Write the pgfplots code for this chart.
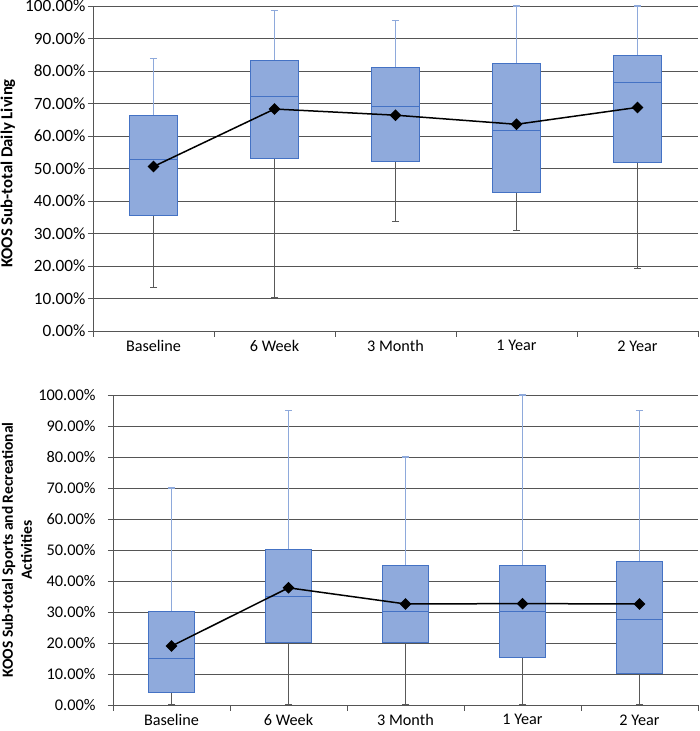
\documentclass[border=0pt]{standalone}
\usepackage{pgfplots}
\pgfplotsset{compat=1.18}
\usepackage{pgfplotstable}
\usepackage{fontspec}
\setmainfont{Carlito}
\definecolor{boxfill}{HTML}{8FAADC}
\definecolor{boxdraw}{HTML}{4472C4}
\definecolor{upw}{HTML}{8EA9DB}
\definecolor{loww}{HTML}{595959}
\definecolor{gridc}{HTML}{555555}

\pgfplotstableread{
x low q1 med q3 top mean
1 13.3 35.4 52.9 66.2 83.9 50.6
2 10.3 53.0 72.1 83.1 98.6 68.3
3 33.8 52.1 69.1 81.1 95.6 66.4
4 31.0 42.7 61.8 82.4 100.0 63.6
5 19.3 51.8 76.5 84.9 100.0 68.8
}\daily
\pgfplotstableread{
x low q1 med q3 top mean
1 0.0 4.0 15.0 30.0 70.0 19.0
2 0.0 20.1 35.0 50.0 95.0 37.8
3 0.0 20.0 30.1 45.0 80.0 32.6
4 0.0 15.2 30.0 45.0 100.0 32.7
5 0.0 10.1 27.7 46.2 95.0 32.6
}\sports

\pgfplotsset{
  kooscommon/.style={
    scale only axis,
    xmin=0.5, xmax=5.5,
    ymin=0, ymax=100,
    axis x line*=bottom,
    axis y line*=left,
    axis line style={draw=gridc, line width=0.8pt},
    ytick={0,10,...,100},
    yticklabels={0.00\%,10.00\%,20.00\%,30.00\%,40.00\%,50.00\%,60.00\%,70.00\%,80.00\%,90.00\%,100.00\%},
    ymajorgrids,
    grid style={draw=gridc, line width=0.8pt},
    ytick style={draw=gridc, line width=0.8pt},
    ytick align=outside,
    major tick length=5pt,
    xtick={1,2,3,4,5},
    xticklabels={Baseline,6 Week,3 Month,1 Year,2 Year},
    xtick style={draw=none},
    extra x ticks={0.5,1.5,2.5,3.5,4.5,5.5},
    extra x tick labels={},
    extra x tick style={xtick style={draw=gridc, line width=0.8pt}, tick align=outside, major tick length=6pt, grid=none},
    xticklabel style={font=\fontsize{16.2}{19}\selectfont, yshift=-6pt},
    every axis y label/.style={at={(rel axis cs:0,0.5)}, anchor=center},
    clip=false,
  },
  boxst/.style={draw=boxdraw, fill=boxfill, line width=1pt, solid},
  medst/.style={draw=boxdraw, line width=1pt, solid},
  meanst/.style={black, line width=1.5pt, mark=square*, mark size=3.4pt, mark options={solid, fill=black, rotate=45}},
}

\newcommand{\kooswhiskers}[1]{%
  \addplot[forget plot, draw=none, mark=none,
    error bars/.cd, y dir=plus, y explicit,
    error bar style={draw=upw, line width=1.2pt},
    error mark options={draw=upw, rotate=90, mark size=3.7pt, line width=1.2pt}]
    table[x=x, y=q3, y error expr={\thisrow{top}-\thisrow{q3}}] {#1};
  \addplot[forget plot, draw=none, mark=none,
    error bars/.cd, y dir=minus, y explicit,
    error bar style={draw=loww, line width=1pt},
    error mark options={draw=loww, rotate=90, mark size=3.7pt, line width=1pt}]
    table[x=x, y=q1, y error expr={\thisrow{q1}-\thisrow{low}}] {#1};
}

\begin{document}
\begin{tikzpicture}[x=1pt,y=1pt]
\useasboundingbox (0,0) rectangle (699,731);

\begin{axis}[kooscommon,
  at={(93pt,400pt)}, anchor=south west,
  width=605pt, height=325pt,
  yticklabel style={font=\fontsize{17.2}{20}\selectfont, xshift=1pt},
  ylabel={KOOS Sub-total Daily Living},
  ylabel style={font=\bfseries\fontsize{16.7}{19}\selectfont, align=center, xshift=-85pt, yshift=-5pt, rotate=90},
]
\kooswhiskers{\daily}
\addplot[boxst] coordinates {(0.8,35.4) (1.2,35.4) (1.2,66.2) (0.8,66.2)} -- cycle;
\addplot[boxst] coordinates {(1.8,53.0) (2.2,53.0) (2.2,83.1) (1.8,83.1)} -- cycle;
\addplot[boxst] coordinates {(2.8,52.1) (3.2,52.1) (3.2,81.1) (2.8,81.1)} -- cycle;
\addplot[boxst] coordinates {(3.8,42.7) (4.2,42.7) (4.2,82.4) (3.8,82.4)} -- cycle;
\addplot[boxst] coordinates {(4.8,51.8) (5.2,51.8) (5.2,84.9) (4.8,84.9)} -- cycle;
\addplot[medst] coordinates {(0.8,52.9) (1.2,52.9)};
\addplot[medst] coordinates {(1.8,72.1) (2.2,72.1)};
\addplot[medst] coordinates {(2.8,69.1) (3.2,69.1)};
\addplot[medst] coordinates {(3.8,61.8) (4.2,61.8)};
\addplot[medst] coordinates {(4.8,76.5) (5.2,76.5)};
\addplot[meanst] table[x=x, y=mean] {\daily};
\end{axis}

\begin{axis}[kooscommon,
  at={(113pt,26pt)}, anchor=south west,
  width=585pt, height=310pt,
  yticklabel style={font=\fontsize{16.3}{19}\selectfont, xshift=-9pt},
  ylabel={KOOS Sub-total Sports and Recreational\\Activities},
  ylabel style={font=\bfseries\fontsize{15.5}{19}\selectfont, align=center, xshift=-96pt, rotate=90},
]
\kooswhiskers{\sports}
\addplot[boxst] coordinates {(0.8,4.0) (1.2,4.0) (1.2,30.0) (0.8,30.0)} -- cycle;
\addplot[boxst] coordinates {(1.8,20.1) (2.2,20.1) (2.2,50.0) (1.8,50.0)} -- cycle;
\addplot[boxst] coordinates {(2.8,20.0) (3.2,20.0) (3.2,45.0) (2.8,45.0)} -- cycle;
\addplot[boxst] coordinates {(3.8,15.2) (4.2,15.2) (4.2,45.0) (3.8,45.0)} -- cycle;
\addplot[boxst] coordinates {(4.8,10.1) (5.2,10.1) (5.2,46.2) (4.8,46.2)} -- cycle;
\addplot[medst] coordinates {(0.8,15.0) (1.2,15.0)};
\addplot[medst] coordinates {(1.8,35.0) (2.2,35.0)};
\addplot[medst] coordinates {(2.8,30.1) (3.2,30.1)};
\addplot[medst] coordinates {(3.8,30.0) (4.2,30.0)};
\addplot[medst] coordinates {(4.8,27.7) (5.2,27.7)};
\addplot[meanst] table[x=x, y=mean] {\sports};
\end{axis}
\end{tikzpicture}
\end{document}
